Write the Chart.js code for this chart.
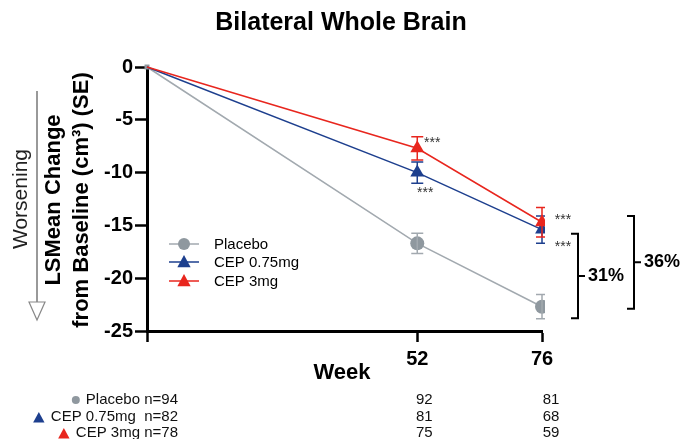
<!DOCTYPE html>
<html>
<head>
<meta charset="utf-8">
<script src="https://cdn.jsdelivr.net/npm/chart.js@4/dist/chart.umd.min.js"></script>
<style>
  html, body { margin: 0; padding: 0; background: #fff; }
</style>
</head>
<body>
<canvas id="brainChart" width="681" height="439"></canvas>
<script>
const FONT = "'Liberation Sans', Arial, Helvetica, sans-serif";

// data
const weeks = [0, 52, 76];
const placeboMean = [0, -16.7, -22.7];
const cepLowMean = [0, -10.0, -15.4];
const cepHighMean = [0, -7.7, -14.7];
const placeboSE = [0, 0.95, 1.15];
const cepLowSE = [0, 1.0, 1.3];
const cepHighSE = [0, 1.1, 1.4];
const seriesLabels = ['Placebo', 'CEP 0.75mg', 'CEP 3mg'];
const yTickValues = [0, -5, -10, -15, -20, -25];
const xTickValues = [0, 52, 76];
const nAtRiskLabels = ['Placebo n=94', 'CEP 0.75mg  n=82', 'CEP 3mg n=78'];
const nPlacebo = [92, 81];
const nCepLow = [81, 68];
const nCepHigh = [75, 59];
const bracketLabels = ['31%', '36%'];
const bracket31 = [-15.8, -23.8];
const bracket36 = [-14.1, -22.9];
const starsLow = ['', '***', '***'];
const starsHigh = ['', '***', '***'];

const GRAY = '#a2a9af';
const GRAY_PT = '#8f989f';
const BLUE = '#1d3f8e';
const RED = '#e8261e';

Chart.defaults.font.family = FONT;
Chart.defaults.color = '#000';

const toPoints = (vals) => weeks.map((w, i) => ({ x: w, y: vals[i] }));
const clipBox = { left: 10, top: 10, right: 3, bottom: 10 };

// error bars, drawn through the y scale
const errorBars = {
  id: 'errorBars',
  afterDatasetDraw(chart, args) {
    const ds = chart.data.datasets[args.index];
    if (!ds.se) return;
    const { ctx, chartArea } = chart;
    const y = chart.scales.y;
    ctx.save();
    ctx.beginPath();
    ctx.rect(chartArea.left - 10, chartArea.top - 10,
      chartArea.right - chartArea.left + 13, chartArea.bottom - chartArea.top + 20);
    ctx.clip();
    ctx.strokeStyle = ds.borderColor;
    ctx.lineWidth = 1.5;
    args.meta.data.forEach((pt, i) => {
      const se = ds.se[i];
      if (!se) return;
      const v = ds.data[i].y;
      const top = y.getPixelForValue(v + se);
      const bot = y.getPixelForValue(v - se);
      ctx.beginPath();
      ctx.moveTo(pt.x, top); ctx.lineTo(pt.x, bot);
      ctx.moveTo(pt.x - 6, top); ctx.lineTo(pt.x + 6, top);
      ctx.moveTo(pt.x - 6, bot); ctx.lineTo(pt.x + 6, bot);
      ctx.stroke();
    });
    ctx.restore();
  }
};

function vText(ctx, text, cx, cy, font, color) {
  ctx.save();
  ctx.translate(cx, cy);
  ctx.rotate(-Math.PI / 2);
  ctx.font = font;
  ctx.fillStyle = color;
  ctx.textAlign = 'center';
  ctx.textBaseline = 'middle';
  ctx.fillText(text, 0, 0);
  ctx.restore();
}

function marker(ctx, kind, cx, cy, size, color) {
  ctx.fillStyle = color;
  ctx.beginPath();
  if (kind === 'circle') {
    ctx.arc(cx, cy, size, 0, Math.PI * 2);
  } else {
    ctx.moveTo(cx, cy - size);
    ctx.lineTo(cx + size * 0.95, cy + size * 0.75);
    ctx.lineTo(cx - size * 0.95, cy + size * 0.75);
    ctx.closePath();
  }
  ctx.fill();
}

const annotations = {
  id: 'annotations',
  afterDraw(chart) {
    const { ctx, chartArea } = chart;
    const x = chart.scales.x, y = chart.scales.y;
    const midY = (chartArea.top + chartArea.bottom) / 2;
    ctx.save();

    // title, centred on the whole picture
    ctx.font = 'bold 25px ' + FONT;
    ctx.fillStyle = '#000';
    ctx.textAlign = 'center';
    ctx.textBaseline = 'middle';
    ctx.fillText('Bilateral Whole Brain', 341, 23);

    // "Worsening" arrow
    vText(ctx, 'Worsening', 21, midY, '21px ' + FONT, '#222');
    ctx.strokeStyle = '#555';
    ctx.lineWidth = 1.2;
    ctx.beginPath();
    ctx.moveTo(37, 91); ctx.lineTo(37, 302);
    ctx.stroke();
    ctx.beginPath();
    ctx.moveTo(29, 302); ctx.lineTo(45, 302); ctx.lineTo(37, 320); ctx.closePath();
    ctx.fillStyle = '#fff';
    ctx.fill();
    ctx.strokeStyle = '#888';
    ctx.stroke();

    // y axis title
    vText(ctx, 'LSMean Change', 54, midY + 1, 'bold 22px ' + FONT, '#000');
    vText(ctx, 'from Baseline (cm\u00B3) (SE)', 82, midY + 1, 'bold 22px ' + FONT, '#000');

    // x axis title
    ctx.font = 'bold 22px ' + FONT;
    ctx.fillStyle = '#000';
    ctx.textAlign = 'center';
    ctx.textBaseline = 'middle';
    ctx.fillText('Week', 342, 373);

    // in-plot legend
    const legendRows = [244, 262, 281];
    const legendCols = [GRAY, BLUE, RED];
    const legendPts = [GRAY_PT, BLUE, RED];
    legendRows.forEach((ry, i) => {
      ctx.strokeStyle = legendCols[i];
      ctx.lineWidth = 1.5;
      ctx.beginPath();
      ctx.moveTo(169, ry); ctx.lineTo(199, ry);
      ctx.stroke();
      marker(ctx, i === 0 ? 'circle' : 'triangle', 184, ry, i === 0 ? 6 : 7, legendPts[i]);
      ctx.font = '15px ' + FONT;
      ctx.fillStyle = '#000';
      ctx.textAlign = 'left';
      ctx.textBaseline = 'middle';
      ctx.fillText(seriesLabels[i], 214, ry + 1);
    });

    // numbers at risk
    const tableRows = [400, 417, 433];
    const tableCounts = [nPlacebo, nCepLow, nCepHigh];
    ctx.font = '15px ' + FONT;
    tableRows.forEach((ry, i) => {
      ctx.fillStyle = '#111';
      ctx.textAlign = 'right';
      ctx.textBaseline = 'middle';
      ctx.fillText(nAtRiskLabels[i], 178, ry);
      const w = ctx.measureText(nAtRiskLabels[i]).width;
      if (i === 0) marker(ctx, 'circle', 178 - w - 10, ry, 4, GRAY_PT);
      else marker(ctx, 'triangle', 178 - w - 12, ry + 1, 6, i === 1 ? BLUE : RED);
      ctx.fillStyle = '#111';
      ctx.textAlign = 'center';
      ctx.fillText(String(tableCounts[i][0]), x.getPixelForValue(52) + 7, ry);
      ctx.fillText(String(tableCounts[i][1]), x.getPixelForValue(76) + 9, ry);
    });

    // significance stars
    ctx.font = '14px ' + FONT;
    ctx.fillStyle = '#333';
    ctx.textAlign = 'center';
    ctx.textBaseline = 'alphabetic';
    const starOffsetsHigh = [null, [15, -9], [21, -6]];
    const starOffsetsLow = [null, [8, 16], [21, 13]];
    weeks.forEach((w, i) => {
      if (starsHigh[i]) {
        const px = x.getPixelForValue(w), py = y.getPixelForValue(cepHighMean[i]);
        ctx.fillText(starsHigh[i], px + starOffsetsHigh[i][0], py + starOffsetsHigh[i][1] + 8);
      }
      if (starsLow[i]) {
        const px = x.getPixelForValue(w), py = y.getPixelForValue(cepLowMean[i]);
        ctx.fillText(starsLow[i], px + starOffsetsLow[i][0], py + starOffsetsLow[i][1] + 8);
      }
    });

    // percent brackets
    const brackets = [[bracket31, 36], [bracket36, 92]];
    brackets.forEach(([range, dx], i) => {
      const bx = chartArea.right + dx;
      const t = y.getPixelForValue(range[0]);
      const b = y.getPixelForValue(range[1]);
      const m = (t + b) / 2;
      ctx.strokeStyle = '#000';
      ctx.lineWidth = 2;
      ctx.beginPath();
      ctx.moveTo(bx - 7, t); ctx.lineTo(bx, t); ctx.lineTo(bx, b); ctx.lineTo(bx - 7, b);
      ctx.moveTo(bx, m); ctx.lineTo(bx + 7, m);
      ctx.stroke();
      ctx.font = 'bold 18px ' + FONT;
      ctx.fillStyle = '#000';
      ctx.textAlign = 'left';
      ctx.textBaseline = 'middle';
      ctx.fillText(bracketLabels[i], bx + 10, m);
    });

    ctx.restore();
  }
};

new Chart(document.getElementById('brainChart'), {
  type: 'line',
  data: {
    datasets: [
      {
        label: seriesLabels[0],
        data: toPoints(placeboMean),
        se: placeboSE,
        borderColor: GRAY,
        backgroundColor: GRAY_PT,
        pointBackgroundColor: GRAY_PT,
        pointBorderWidth: 0,
        pointStyle: ['rect', 'circle', 'circle'],
        pointRadius: [3.5, 7, 7],
        borderWidth: 1.5,
        order: 3,
        clip: clipBox
      },
      {
        label: seriesLabels[1],
        data: toPoints(cepLowMean),
        se: cepLowSE,
        borderColor: BLUE,
        backgroundColor: BLUE,
        pointBackgroundColor: BLUE,
        pointBorderWidth: 0,
        pointStyle: 'triangle',
        pointRadius: [0, 8, 8],
        borderWidth: 1.5,
        order: 2,
        clip: clipBox
      },
      {
        label: seriesLabels[2],
        data: toPoints(cepHighMean),
        se: cepHighSE,
        borderColor: RED,
        backgroundColor: RED,
        pointBackgroundColor: RED,
        pointBorderWidth: 0,
        pointStyle: 'triangle',
        pointRadius: [0, 8, 8],
        borderWidth: 1.5,
        order: 1,
        clip: clipBox
      }
    ]
  },
  options: {
    responsive: false,
    animation: false,
    events: [],
    devicePixelRatio: 1,
    layout: { padding: { left: 0, right: 139, top: 67, bottom: 0 } },
    plugins: {
      legend: { display: false },
      tooltip: { enabled: false },
      title: { display: false }
    },
    scales: {
      x: {
        type: 'linear',
        min: 0,
        max: 76,
        afterBuildTicks: (s) => { s.ticks = xTickValues.map((v) => ({ value: v })); },
        afterFit: (s) => { s.height = 108; },
        border: { color: '#000', width: 3 },
        grid: { drawOnChartArea: false, tickLength: 11, tickColor: '#000', tickWidth: 2.5 },
        ticks: {
          autoSkip: false,
          maxRotation: 0,
          padding: 5,
          color: '#000',
          font: { size: 20, weight: 'bold' },
          callback: (v) => (v === 0 ? '' : v)
        }
      },
      y: {
        min: -25,
        max: 0,
        afterBuildTicks: (s) => { s.ticks = yTickValues.map((v) => ({ value: v })); },
        afterFit: (s) => { s.width = 147; },
        border: { color: '#000', width: 3 },
        grid: { drawOnChartArea: false, tickLength: 12, tickColor: '#000', tickWidth: 2.5 },
        ticks: {
          padding: 2,
          color: '#000',
          font: { size: 20, weight: 'bold' }
        }
      }
    }
  },
  plugins: [errorBars, annotations]
});
</script>
</body>
</html>
